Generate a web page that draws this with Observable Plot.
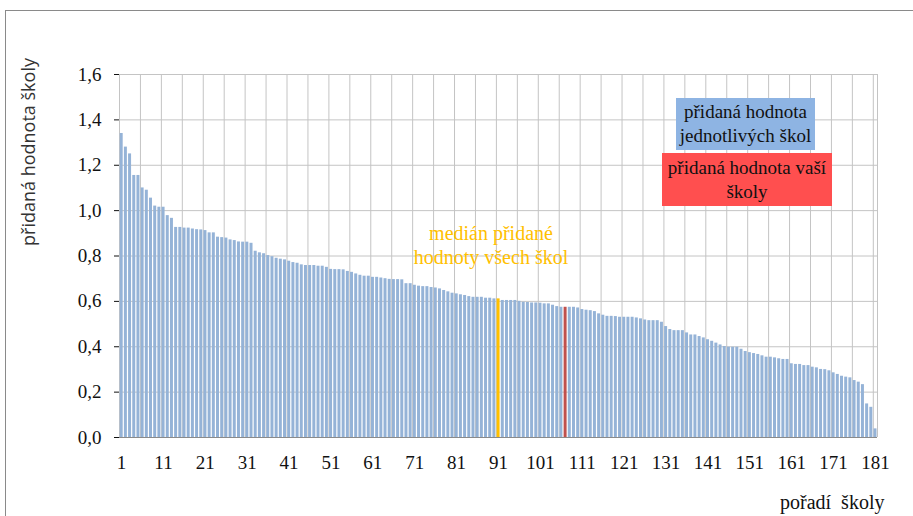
<!DOCTYPE html>
<html><head><meta charset="utf-8">
<script src="https://cdn.jsdelivr.net/npm/d3@7"></script>
<script src="https://cdn.jsdelivr.net/npm/@observablehq/plot@0.6"></script>
<style>
html,body{margin:0;padding:0;background:#fff}
body{width:913px;height:516px;overflow:hidden;position:relative;font-family:"Liberation Serif","Times New Roman",serif}
#frame{position:absolute;left:5px;top:10px;width:1000px;height:1000px;border:1px solid #8a8a8a;box-sizing:border-box}
#chart{position:absolute;left:0;top:0}
#chart svg, #chart svg text{font-family:"Liberation Serif","Times New Roman",serif !important;font-size:19px !important}
.box{position:absolute;display:flex;align-items:center;justify-content:center;text-align:center;font-family:"Liberation Serif",serif;font-size:19px;line-height:24px;color:#111}
.t{position:absolute;white-space:nowrap}
</style></head>
<body>
<div id="frame"></div>
<div id="chart"></div>
<div class="t" style="left:28px;top:152px;transform:translate(-50%,-50%) rotate(-90deg);font-family:'Open Sans',sans-serif;font-size:18px;color:#333">přidaná hodnota školy</div>
<div class="t" style="left:491px;top:221px;transform:translateX(-50%);text-align:center;font-size:20px;line-height:24px;color:#FFC000">medián přidané<br>hodnoty všech škol</div>
<div class="box" style="left:676px;top:98px;width:139px;height:52px;background:#8EB4E3">přidaná hodnota<br>jednotlivých škol</div>
<div class="box" style="left:662px;top:153px;width:170px;height:53px;background:#FF4F4F">přidaná hodnota vaší<br>školy</div>
<div class="t" style="left:780px;top:491px;font-size:20px;color:#111">pořadí&nbsp; školy</div>
<script>
const values = [
1.34,1.28,1.25,1.155,1.155,1.10,1.09,1.055,1.02,1.015,
1.015,0.978,0.966,0.926,0.926,0.923,0.923,0.919,0.916,0.915,
0.912,0.902,0.902,0.883,0.881,0.879,0.871,0.868,0.862,0.861,
0.861,0.856,0.821,0.814,0.810,0.802,0.797,0.790,0.786,0.783,
0.777,0.771,0.768,0.761,0.758,0.758,0.758,0.755,0.755,0.750,
0.741,0.740,0.740,0.739,0.732,0.728,0.721,0.715,0.711,0.711,
0.706,0.706,0.703,0.700,0.697,0.696,0.696,0.695,0.678,0.678,
0.671,0.667,0.665,0.665,0.661,0.659,0.655,0.648,0.642,0.636,
0.633,0.629,0.626,0.621,0.618,0.618,0.618,0.614,0.614,0.611,
0.611,0.604,0.604,0.604,0.604,0.600,0.596,0.595,0.593,0.593,
0.592,0.589,0.589,0.583,0.577,0.574,0.574,0.574,0.574,0.571,
0.564,0.561,0.559,0.555,0.545,0.539,0.534,0.534,0.533,0.530,
0.530,0.530,0.530,0.527,0.523,0.518,0.515,0.515,0.515,0.508,
0.489,0.476,0.471,0.471,0.471,0.461,0.452,0.452,0.445,0.439,
0.431,0.424,0.416,0.408,0.401,0.398,0.398,0.398,0.389,0.379,
0.374,0.370,0.366,0.360,0.354,0.354,0.351,0.347,0.344,0.344,
0.325,0.322,0.322,0.317,0.317,0.310,0.307,0.300,0.299,0.294,
0.285,0.278,0.270,0.266,0.263,0.251,0.244,0.233,0.148,0.133,
0.038];
const ranks = values.map((v, i) => i + 1);
const medianRank = 91;
const yourRank = 107;
const kinds = ["školy", "medián", "vaše škola"];
const kindColors = ["#95B3D7", "#FFC000", "#C0504D"];
const xTicks = [1,11,21,31,41,51,61,71,81,91,101,111,121,131,141,151,161,171,181];
const yTicks = [0,0.2,0.4,0.6,0.8,1.0,1.2,1.4,1.6];
const xGrid = [1,6,11,16,21,26,31,36,41,46,51,56,61,66,71,76,81,86,91,96,101,106,111,116,121,126,131,136,141,146,151,156,161,166,171,176,181];

const data = ranks.map((r, i) => ({
  rank: r,
  value: values[i],
  kind: r === medianRank ? kinds[1] : r === yourRank ? kinds[2] : kinds[0]
}));

const chart = Plot.plot({
  width: 913,
  height: 516,
  marginLeft: 119,
  marginRight: 36,
  marginTop: 74,
  marginBottom: 79,
  style: {fontSize: "19px", fontFamily: "'Liberation Serif', serif", color: "#111", background: "transparent"},
  x: {type: "linear", domain: [0.5, 181.5], ticks: xTicks, tickSize: 0, tickPadding: 18, tickFormat: d => String(d), label: null},
  y: {domain: [0, 1.6], ticks: yTicks, tickSize: 5, tickPadding: 13, tickFormat: d => d.toFixed(1).replace(".", ","), label: null},
  color: {domain: kinds, range: kindColors},
  marks: [
    Plot.ruleY(yTicks, {stroke: "#c4c4c4", strokeWidth: 1}),
    Plot.ruleX(xGrid.map(g => g - 0.5).concat([181.5]), {y1: 0, y2: 1.6, stroke: "#c4c4c4", strokeWidth: 1}),
    Plot.rectY(data, {x1: d => d.rank - 0.5, x2: d => d.rank + 0.5, y: "value", fill: "kind", insetLeft: 0.7, insetRight: 0.5}),
    Plot.ruleY([0], {stroke: "#8a8a8a", strokeWidth: 1})
  ]
});
document.getElementById("chart").appendChild(chart);
</script>
</body></html>
